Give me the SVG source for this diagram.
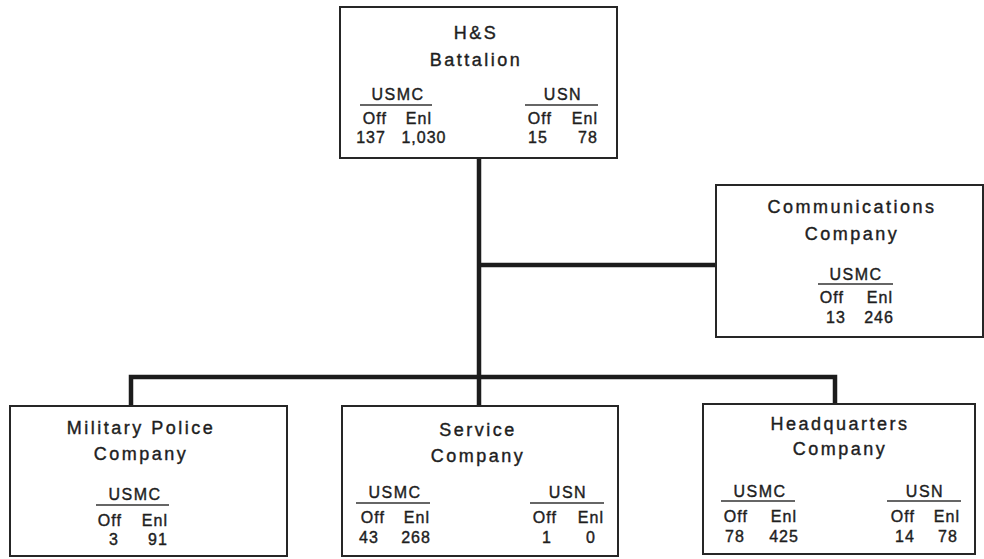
<svg xmlns="http://www.w3.org/2000/svg" width="984" height="559" viewBox="0 0 984 559">
<style>
.box{fill:#fff;stroke:#262626;stroke-width:2}
.conn{fill:none;stroke:#1c1c1c;stroke-width:4.5;stroke-linejoin:miter;stroke-linecap:butt}
.ul{stroke:#333;stroke-width:1.5}
text{font-family:"Liberation Sans",Arial,sans-serif;fill:#1e1e1e;stroke:#1e1e1e;stroke-width:0.4;text-anchor:middle}
.t{font-size:18px;letter-spacing:2.5px}
.h{font-size:16px;letter-spacing:1.5px}
.s{font-size:16px;letter-spacing:1.1px}
.n{font-size:16px;letter-spacing:1px}
</style>
<rect width="984" height="559" fill="#fff"/>
<g id="connectors">
<line class="conn" x1="479" y1="158" x2="479" y2="406"/>
<line class="conn" x1="479" y1="265" x2="716" y2="265"/>
<polyline class="conn" points="131,406 131,377 835,377 835,404"/>
</g>
<g id="hs-battalion">
<rect class="box" x="340" y="7" width="277" height="151"/>
<text class="t" x="476" y="39">H&amp;S</text>
<text class="t" x="476" y="66">Battalion</text>
<text class="h" x="398" y="100">USMC</text>
<line class="ul" x1="360" y1="105" x2="432" y2="105"/>
<text class="s" x="375" y="124">Off</text>
<text class="s" x="419" y="124">Enl</text>
<text class="n" x="371" y="143">137</text>
<text class="n" x="424" y="143">1,030</text>
<text class="h" x="563" y="100">USN</text>
<line class="ul" x1="525" y1="105" x2="598" y2="105"/>
<text class="s" x="540" y="124">Off</text>
<text class="s" x="585" y="124">Enl</text>
<text class="n" x="538" y="143">15</text>
<text class="n" x="588" y="143">78</text>
</g>
<g id="communications-company">
<rect class="box" x="716" y="185" width="267" height="152"/>
<text class="t" x="852" y="213">Communications</text>
<text class="t" x="852" y="240">Company</text>
<text class="h" x="856" y="280">USMC</text>
<line class="ul" x1="818" y1="284" x2="893" y2="284"/>
<text class="s" x="832" y="303">Off</text>
<text class="s" x="880" y="303">Enl</text>
<text class="n" x="836" y="323">13</text>
<text class="n" x="879" y="323">246</text>
</g>
<g id="military-police-company">
<rect class="box" x="10" y="406" width="277" height="150"/>
<text class="t" x="141" y="434">Military Police</text>
<text class="t" x="141" y="460">Company</text>
<text class="h" x="135" y="500">USMC</text>
<line class="ul" x1="96" y1="505" x2="169" y2="505"/>
<text class="s" x="110" y="526">Off</text>
<text class="s" x="155" y="526">Enl</text>
<text class="n" x="114" y="545">3</text>
<text class="n" x="158" y="545">91</text>
</g>
<g id="service-company">
<rect class="box" x="342" y="406" width="276" height="150"/>
<text class="t" x="478" y="436">Service</text>
<text class="t" x="478" y="462">Company</text>
<text class="h" x="395" y="498">USMC</text>
<line class="ul" x1="356" y1="503" x2="430" y2="503"/>
<text class="s" x="373" y="523">Off</text>
<text class="s" x="417" y="523">Enl</text>
<text class="n" x="369" y="543">43</text>
<text class="n" x="416" y="543">268</text>
<text class="h" x="568" y="498">USN</text>
<line class="ul" x1="530" y1="503" x2="604" y2="503"/>
<text class="s" x="545" y="523">Off</text>
<text class="s" x="591" y="523">Enl</text>
<text class="n" x="547" y="543">1</text>
<text class="n" x="591" y="543">0</text>
</g>
<g id="headquarters-company">
<rect class="box" x="703" y="404" width="272" height="150"/>
<text class="t" x="840" y="430">Headquarters</text>
<text class="t" x="840" y="455">Company</text>
<text class="h" x="760" y="497">USMC</text>
<line class="ul" x1="721" y1="501" x2="795" y2="501"/>
<text class="s" x="736" y="522">Off</text>
<text class="s" x="784" y="522">Enl</text>
<text class="n" x="735" y="542">78</text>
<text class="n" x="784" y="542">425</text>
<text class="h" x="925" y="497">USN</text>
<line class="ul" x1="887" y1="501" x2="961" y2="501"/>
<text class="s" x="903" y="522">Off</text>
<text class="s" x="947" y="522">Enl</text>
<text class="n" x="905" y="542">14</text>
<text class="n" x="948" y="542">78</text>
</g>
</svg>
